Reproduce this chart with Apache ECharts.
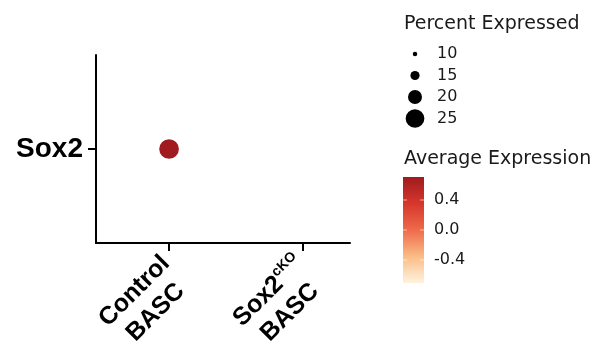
<!DOCTYPE html>
<html>
<head>
<meta charset="utf-8">
<script src="https://cdn.jsdelivr.net/npm/echarts@6/dist/echarts.min.js"></script>
<style>
  html, body { margin: 0; padding: 0; background: #fff; }
  #chart { width: 605px; height: 360px; }
</style>
</head>
<body>
<div id="chart"></div>
<script>
// Dot plot: one gene across two BASC groups
const genes = ['Sox2'];
const groups = ['Control', 'Sox2cKO'];
const groupPos = [1, 2];
const percentExpressed = [26, 5.3];
const avgExpression = [0.707, -0.707];

// Legend scales
const sizeBreaks = [10, 15, 20, 25];
const colorBreaks = [0.4, 0.0, -0.4];
const colorMin = -0.707, colorMax = 0.707;
const colorStops = ['#fff2de', '#fbbc86', '#ef6a4b', '#d6372c', '#a01a1f'];

// Dot diameter from percent expressed (radius scale)
const sizeZero = 5.3, sizeSlope = 0.95;
function dotSize(p) { return Math.max(0, sizeSlope * (p - sizeZero)); }

const seriesData = groups.map((g, i) => [groupPos[i], genes[0], percentExpressed[i], avgExpression[i]]);

const chart = echarts.init(document.getElementById('chart'), null, { renderer: 'canvas' });

const gridLeft = 96, gridTop = 55, gridRight = 255, gridBottom = 117;
const bold = 'Liberation Sans';
const legendFont = '"DejaVu Sans"';

// Colour-bar geometry
const barX = 403, barTop = 177, barH = 106, barW = 21;
function barY(v) { return barTop + (colorMax - v) / (colorMax - colorMin) * barH; }

const graphics = [];
graphics.push({
  type: 'text', left: 404, top: 15,
  style: { text: 'Percent Expressed', font: '19px ' + legendFont, fill: '#1a1a1a' }
});
sizeBreaks.forEach((b, i) => {
  const cy = 54 + i * 21.5;
  const r = dotSize(b) / 2;
  graphics.push({ type: 'circle', shape: { cx: 415, cy: cy, r: r }, style: { fill: '#000' } });
  graphics.push({
    type: 'text', x: 437, y: cy,
    style: { text: String(b), font: '16px ' + legendFont, fill: '#1a1a1a', verticalAlign: 'middle' }
  });
});
graphics.push({
  type: 'text', left: 404, top: 150,
  style: { text: 'Average Expression', font: '19px ' + legendFont, fill: '#1a1a1a' }
});
graphics.push({
  type: 'rect', shape: { x: barX, y: barTop, width: barW, height: barH },
  style: {
    fill: new echarts.graphic.LinearGradient(0, 1, 0, 0,
      colorStops.map((c, i) => ({ offset: i / (colorStops.length - 1), color: c })))
  }
});
colorBreaks.forEach(b => {
  const y = barY(b);
  graphics.push({ type: 'line', shape: { x1: barX, y1: y, x2: barX + 4, y2: y }, style: { stroke: 'rgba(255,255,255,0.6)', lineWidth: 1 } });
  graphics.push({ type: 'line', shape: { x1: barX + barW - 4, y1: y, x2: barX + barW, y2: y }, style: { stroke: 'rgba(255,255,255,0.6)', lineWidth: 1 } });
  graphics.push({
    type: 'text', x: 434, y: y,
    style: { text: b.toFixed(1), font: '16px ' + legendFont, fill: '#1a1a1a', verticalAlign: 'middle' }
  });
});

chart.setOption({
  animation: false,
  backgroundColor: '#fff',
  grid: { left: gridLeft, top: gridTop, right: gridRight, bottom: gridBottom },
  xAxis: {
    type: 'value', min: 0.455, max: 2.35,
    splitLine: { show: false },
    axisLine: { show: true, onZero: false, lineStyle: { color: '#000', width: 2 } },
    axisTick: { show: true, customValues: groupPos, length: 8, lineStyle: { color: '#000', width: 2 } },
    axisLabel: {
      customValues: groupPos,
      rotate: 45, margin: 20,
      padding: [21, 0, 0, 0],
      color: '#000',
      fontFamily: bold, fontWeight: 'bold', fontSize: 25, lineHeight: 30,
      formatter: v => {
        const i = groupPos.indexOf(v);
        if (i === 1) return '{b|Sox2}{s|cKO}\n{b|BASC}';
        return '{b|' + groups[i] + '}\n{b|BASC}';
      },
      rich: {
        b: { fontFamily: bold, fontWeight: 'bold', fontSize: 25, color: '#000', lineHeight: 30, align: 'center' },
        s: { fontFamily: bold, fontSize: 14, color: '#000', verticalAlign: 'top', lineHeight: 30, align: 'center', padding: [0, 0, 12, 0] }
      }
    }
  },
  yAxis: {
    type: 'category', data: genes,
    axisLine: { show: true, lineStyle: { color: '#000', width: 2 } },
    axisTick: { show: true, alignWithLabel: true, length: 8, lineStyle: { color: '#000', width: 2 } },
    axisLabel: { color: '#000', fontFamily: bold, fontWeight: 'bold', fontSize: 28, margin: 13 },
    splitLine: { show: false }
  },
  visualMap: [{
    type: 'continuous', show: false, dimension: 3,
    min: colorMin, max: colorMax,
    inRange: { color: colorStops }
  }],
  series: [{
    type: 'scatter',
    data: seriesData,
    encode: { x: 0, y: 1 },
    itemStyle: { opacity: 1 },
    symbolSize: d => dotSize(d[2])
  }],
  graphic: graphics
});
</script>
</body>
</html>
